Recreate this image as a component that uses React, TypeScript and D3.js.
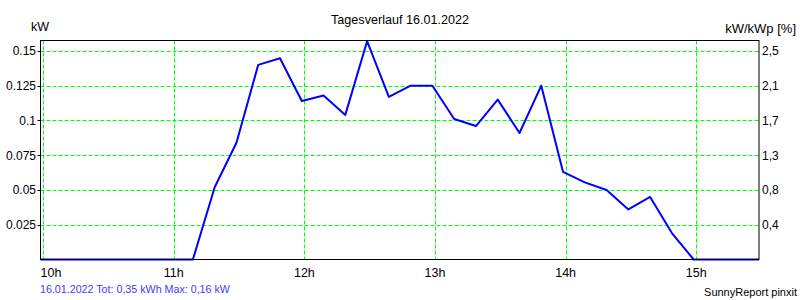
import React from "react";
import * as d3 from "d3";

// minutes after 10:00, sampled every 10 min
const times: number[] = [0, 10, 20, 30, 40, 50, 60, 70, 80, 90, 100, 110, 120, 130, 140, 150, 160, 170, 180, 190, 200, 210, 220, 230, 240, 250, 260, 270, 280, 290, 300, 310, 320, 330];
const powerKW: number[] = [0, 0, 0, 0, 0, 0, 0, 0, 0.052, 0.084, 0.14, 0.1447, 0.114, 0.118, 0.104, 0.157, 0.117, 0.125, 0.125, 0.101, 0.096, 0.115, 0.091, 0.125, 0.063, 0.0555, 0.05, 0.036, 0.045, 0.019, 0, 0, 0, 0];
const hourTicks: number[] = [10, 11, 12, 13, 14, 15];
const leftTicks: number[] = [0.025, 0.05, 0.075, 0.1, 0.125, 0.15];
const leftTickLabels: string[] = ["0.025", "0.05", "0.075", "0.1", "0.125", "0.15"];
const rightTickLabels: string[] = ["0,4", "0,8", "1,3", "1,7", "2,1", "2,5"];
const title = "Tagesverlauf 16.01.2022";
const footerLeft = "16.01.2022 Tot: 0,35 kWh Max: 0,16 kW";
const footerRight = "SunnyReport pinxit";
const gridOffsetMin = 1.2;

export default function App() {
  const W = 800, H = 300;
  const L = 40.5, R = 759, T = 40.5, B = 259.5;
  const x = d3.scaleLinear().domain([0, 330]).range([L, R]);
  const y = d3.scaleLinear().domain([0, 0.1575]).range([B, T]);
  const pts = times.map((t, i) => [t, powerKW[i]] as [number, number]);
  const line = d3.line<[number, number]>().x(d => x(d[0])).y(d => y(d[1]));
  const font = "'Liberation Sans', Arial, sans-serif";
  const hx = (h: number) => x((h - 10) * 60 + gridOffsetMin);
  return (
    <svg width={W} height={H} style={{ position: "absolute", left: 0, top: 0, background: "#fff" }} fontFamily={font}>
      <rect x={0} y={0} width={W} height={H} fill="#fff" />
      {leftTicks.map((v, i) => (
        <line key={"h" + i} x1={L} x2={R} y1={Math.round(y(v)) + 0.5} y2={Math.round(y(v)) + 0.5} stroke="#00ff00" strokeDasharray="4,2" />
      ))}
      {hourTicks.map((h, i) => (
        <line key={"v" + i} x1={Math.round(hx(h)) + 0.5} x2={Math.round(hx(h)) + 0.5} y1={T} y2={B} stroke="#00ff00" strokeDasharray="4,2" />
      ))}
      <path d={line(pts) || ""} fill="none" stroke="#0000ff" strokeWidth={2} strokeLinejoin="round" />
      <rect x={L} y={T} width={R - L} height={B - T} fill="none" stroke="#000" strokeWidth={1} />
      {leftTicks.map((v, i) => (
        <g key={"lt" + i}>
          <line x1={L - 3} x2={L} y1={Math.round(y(v)) + 0.5} y2={Math.round(y(v)) + 0.5} stroke="#000" />
          <text x={36} y={y(v) + 4.5} textAnchor="end" fontSize={12} fill="#000">{leftTickLabels[i]}</text>
          <text x={762} y={y(v) + 4.5} textAnchor="start" fontSize={12} fill="#000">{rightTickLabels[i]}</text>
        </g>
      ))}
      {hourTicks.map((h, i) => (
        <text key={"xl" + i} x={i === 0 ? L : hx(h)} y={277} textAnchor={i === 0 ? "start" : "middle"} fontSize={12.5} fill="#000">{h + "h"}</text>
      ))}
      <text x={400} y={24} textAnchor="middle" fontSize={12.6} fill="#000">{title}</text>
      <text x={31} y={31} fontSize={12.5} fill="#000">kW</text>
      <text x={796} y={33} textAnchor="end" fontSize={13} fill="#000">kW/kWp [%]</text>
      <text x={40} y={293} fontSize={10.7} fill="#3c3cff">{footerLeft}</text>
      <text x={797} y={296} textAnchor="end" fontSize={11} fill="#000">{footerRight}</text>
    </svg>
  );
}
